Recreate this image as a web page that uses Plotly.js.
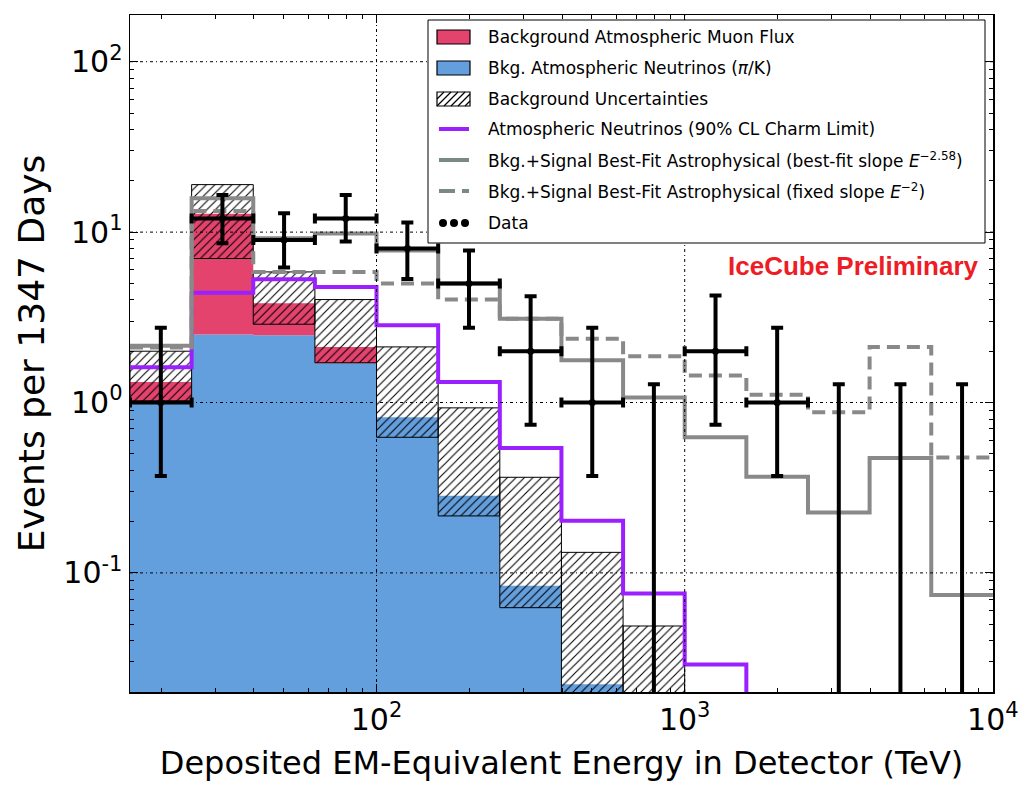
<!DOCTYPE html>
<html><head><meta charset="utf-8">
<script src="https://cdn.plot.ly/plotly-3.0.1.min.js"></script>
<style>html,body{margin:0;padding:0;background:#fff}#chart{width:1018px;height:786px}</style>
</head><body><div id="chart"></div>
<script>
// ---------- data ----------
const binEdges = [15.85, 25.12, 39.81, 63.10, 100, 158.5, 251.2, 398.1, 631.0, 1000, 1585, 2512, 3981, 6310, 10000];
const atmNuBkg   = [1.02, 2.51, 2.48, 1.70, 0.82, 0.284, 0.084, 0.0222];      // bins 1-8
const muonBkg    = [0.30, 10.3, 1.34, 0.42, 0, 0, 0, 0];                     // stacked on atm. nu
const uncLow     = [1.02, 7.0, 2.88, 1.71, 0.625, 0.216, 0.0625, 0.015, 0.008];
const uncHigh    = [2.0, 19.0, 5.84, 4.02, 2.12, 0.93, 0.364, 0.132, 0.0488];
const charmLimit = [1.61, 4.4, 5.29, 4.77, 2.84, 1.32, 0.541, 0.202, 0.0756, 0.029, 0.012];
const fitBestSlope  = [2.15, 15.8, 9.2, 9.8, 7.8, 5.0, 3.1, 1.77, 1.07, 0.625, 0.367, 0.226, 0.473, 0.0742];
const fitFixedSlope = [2.1, 13.3, 5.84, 5.84, 5.0, 4.02, 3.1, 2.37, 1.87, 1.44, 1.11, 0.877, 2.12, 0.476];
const dataCounts = [1, 12, 9, 12, 8, 5, 2, 1, 0, 2, 1, 0, 0, 0];
const dataUpper  = [2.75, 16.5, 12.9, 16.5, 11.4, 7.8, 4.2, 2.75, 1.28, 4.25, 2.75, 1.28, 1.28, 1.28];
const dataLower  = [0.37, 8.6, 6.2, 8.8, 5.3, 2.75, 0.74, 0.37, 0, 0.74, 0.37, 0, 0, 0];
const yTickVals = [0.1, 1, 10, 100];
const yTickText = ['10<sup>-1</sup>', '10<sup>0</sup>', '10<sup>1</sup>', '10<sup>2</sup>'];
const xTickVals = [100, 1000, 10000];
const xTickText = ['10<sup>2</sup>', '10<sup>3</sup>', '10<sup>4</sup>'];
const legendLabels = [
  'Background Atmospheric Muon Flux',
  'Bkg. Atmospheric Neutrinos (<i>π</i>/K)',
  'Background Uncertainties',
  'Atmospheric Neutrinos (90% CL Charm Limit)',
  'Bkg.+Signal Best-Fit Astrophysical (best-fit slope <i>E</i><sup>−2.58</sup>)',
  'Bkg.+Signal Best-Fit Astrophysical (fixed slope <i>E</i><sup>−2</sup>)',
  'Data'
];

// ---------- style ----------
const RED = '#e3436d', BLUE = '#639edd', PURPLE = '#9b20ff', GRAY = '#898989', LEGGRAY = '#7a8888';
const YMIN = 0.02, YMAX = 188, FLOOR = 1e-4;

// ---------- helpers ----------
function stepXY(vals) {
  const xs = [], ys = [];
  vals.forEach((v, i) => { xs.push(binEdges[i], binEdges[i + 1]); ys.push(v, v); });
  return {xs, ys};
}
const stackTop = atmNuBkg.map((v, i) => v + muonBkg[i]);

// blue (atm. neutrinos) polygon
const bs = stepXY(atmNuBkg);
const blueX = [binEdges[0], ...bs.xs, binEdges[atmNuBkg.length]];
const blueY = [FLOOR, ...bs.ys, FLOOR];

// red (muon) polygon between atm-nu and stack top
const ts = stepXY(stackTop);
const redX = [...ts.xs, ...bs.xs.slice().reverse()];
const redY = [...ts.ys, ...bs.ys.slice().reverse()];

// hatched uncertainty rectangles
const hatchX = [], hatchY = [];
uncLow.forEach((lo, i) => {
  const a = binEdges[i], b = binEdges[i + 1], hi = uncHigh[i];
  hatchX.push(a, a, b, b, a, null);
  hatchY.push(lo, hi, hi, lo, lo, null);
});

function stepLine(vals) {
  const xs = binEdges.slice(0, vals.length + 1);
  const ys = [...vals, vals[vals.length - 1]];
  return {xs, ys};
}
const charmL = stepLine(charmLimit), bestL = stepLine(fitBestSlope), fixL = stepLine(fitFixedSlope);

const centers = dataCounts.map((_, i) => Math.sqrt(binEdges[i] * binEdges[i + 1]));
const nz = dataCounts.map((c, i) => i).filter(i => dataCounts[i] > 0);
const zb = dataCounts.map((c, i) => i).filter(i => dataCounts[i] === 0);

const traces = [
  {type:'scatter', mode:'lines', x: blueX, y: blueY, fill:'toself', fillcolor: BLUE, line:{width:0}, hoverinfo:'skip'},
  {type:'scatter', mode:'lines', x: redX, y: redY, fill:'toself', fillcolor: RED, line:{width:0}, hoverinfo:'skip'},
  {type:'scatter', mode:'lines', x: hatchX, y: hatchY, fill:'toself', fillcolor:'rgba(0,0,0,0)',
   fillpattern:{shape:'/', fgcolor:'black', bgcolor:'rgba(0,0,0,0)', size:6, solidity:0.18},
   line:{color:'black', width:1}, connectgaps:false, hoverinfo:'skip'},
  {type:'scatter', mode:'lines', x: charmL.xs, y: charmL.ys, line:{shape:'hv', color: PURPLE, width:4}},
  {type:'scatter', mode:'lines', x: bestL.xs, y: bestL.ys, line:{shape:'hv', color: GRAY, width:4}},
  {type:'scatter', mode:'lines', x: fixL.xs, y: fixL.ys, line:{shape:'hv', color: GRAY, width:4, dash:'13px,7px'}},
  {type:'scatter', mode:'markers', x: nz.map(i => centers[i]), y: nz.map(i => dataCounts[i]),
   marker:{color:'black', size:7},
   error_y:{type:'data', symmetric:false, array: nz.map(i => dataUpper[i] - dataCounts[i]),
            arrayminus: nz.map(i => dataCounts[i] - dataLower[i]), color:'black', thickness:4, width:6},
   error_x:{type:'data', symmetric:false, array: nz.map(i => binEdges[i + 1] - centers[i]),
            arrayminus: nz.map(i => centers[i] - binEdges[i]), color:'black', thickness:4, width:5}},
  {type:'scatter', mode:'markers', x: zb.map(i => centers[i]), y: zb.map(i => dataUpper[i]),
   marker:{color:'black', size:1, opacity:0},
   error_y:{type:'data', symmetric:false, array: zb.map(() => 0), arrayminus: zb.map(i => dataUpper[i]),
            color:'black', thickness:4, width:6}}
];

// ---------- decoration shapes (paper coords) ----------
const PL = 130, PR = 993, PT = 15, PB = 692;
const XLOG0 = Math.log10(binEdges[0]), XLOG1 = 4.0004;
const px = x => (x - PL) / (PR - PL);
const py = y => (PB - y) / (PB - PT);
const lx = v => (Math.log10(v) - XLOG0) / (XLOG1 - XLOG0);
const ly = v => (Math.log10(v) - Math.log10(YMIN)) / (Math.log10(YMAX) - Math.log10(YMIN));

const shapes = [];
const gridDash = '3px,3px,1px,3px';
[100, 1000].forEach(v => shapes.push({type:'line', xref:'paper', yref:'paper', x0: lx(v), x1: lx(v), y0:0, y1:1,
  line:{color:'black', width:1, dash: gridDash}, layer:'above'}));
yTickVals.forEach(v => shapes.push({type:'line', xref:'paper', yref:'paper', x0:0, x1:1, y0: ly(v), y1: ly(v),
  line:{color:'black', width:1, dash: gridDash}, layer:'above'}));

// legend box
shapes.push({type:'rect', xref:'paper', yref:'paper', x0: px(428), x1: px(985), y0: py(243), y1: py(20),
  fillcolor:'white', line:{color:'black', width:1}, layer:'above'});
const rowY = [37, 68, 99, 129, 160, 191, 223];
const symX0 = 437, symX1 = 470;
function patch(yc, fill) {
  shapes.push({type:'rect', xref:'paper', yref:'paper', x0: px(symX0), x1: px(symX1), y0: py(yc + 7), y1: py(yc - 7),
    fillcolor: fill, line:{color:'black', width:1.2}, layer:'above'});
}
patch(rowY[0], RED);
patch(rowY[1], BLUE);
patch(rowY[2], 'white');
(function hatch(yc) {
  const yT = yc - 7, yB = yc + 7, h = yB - yT;
  for (let k = symX0 - h; k < symX1; k += 7) {
    let sx = k, sy = yB, ex = k + h, ey = yT;
    if (sx < symX0) { sy -= (symX0 - sx); sx = symX0; }
    if (ex > symX1) { ey += (ex - symX1); ex = symX1; }
    if (sx < ex) shapes.push({type:'line', xref:'paper', yref:'paper', x0: px(sx), y0: py(sy), x1: px(ex), y1: py(ey),
      line:{color:'black', width:1.3}, layer:'above'});
  }
})(rowY[2]);
shapes.push({type:'line', xref:'paper', yref:'paper', x0: px(439), x1: px(469), y0: py(rowY[3]), y1: py(rowY[3]),
  line:{color: PURPLE, width:4}, layer:'above'});
shapes.push({type:'line', xref:'paper', yref:'paper', x0: px(439), x1: px(469), y0: py(rowY[4]), y1: py(rowY[4]),
  line:{color: LEGGRAY, width:4}, layer:'above'});
shapes.push({type:'line', xref:'paper', yref:'paper', x0: px(439), x1: px(469), y0: py(rowY[5]), y1: py(rowY[5]),
  line:{color: LEGGRAY, width:4, dash:'16px,7px'}, layer:'above'});
[443, 454, 465].forEach(cx => shapes.push({type:'circle', xref:'paper', yref:'paper',
  x0: px(cx - 4), x1: px(cx + 4), y0: py(rowY[6] + 4), y1: py(rowY[6] - 4),
  fillcolor:'black', line:{color:'black', width:0}, layer:'above'}));

const annotations = legendLabels.map((t, i) => ({xref:'paper', yref:'paper', x: px(486), y: py(rowY[i]),
  xanchor:'left', yanchor:'middle', showarrow:false, text: t, font:{family:'DejaVu Sans', size:17, color:'black'}}));
annotations.push({xref:'paper', yref:'paper', x: px(981), y: py(266), xanchor:'right', yanchor:'middle', showarrow:false,
  text:'<b>IceCube Preliminary</b>', font:{family:'Liberation Sans', size:26, color:'#ee1c25'}});

// minor ticks
const minorX = [], minorY = [];
[10, 100, 1000].forEach(d => { for (let m = 2; m <= 9; m++) minorX.push(m * d); });
[0.01, 0.1, 1, 10, 100].forEach(d => { for (let m = 2; m <= 9; m++) minorY.push(m * d); });

const axisCommon = {showline:true, linecolor:'black', linewidth:1.5, mirror:'ticks', ticks:'inside',
  ticklen:8, tickwidth:1, tickcolor:'black', showgrid:false, zeroline:false, automargin:false};

const layout = {
  width:1018, height:786, margin:{l:PL, r:1018 - PR, t:PT, b:786 - PB},
  paper_bgcolor:'white', plot_bgcolor:'white', showlegend:false,
  font:{family:'DejaVu Sans', color:'black'},
  xaxis: Object.assign({}, axisCommon, {type:'log', range:[XLOG0, XLOG1], ticklabeloverflow:'allow',
    tickmode:'array', tickvals: xTickVals, ticktext: xTickText, tickfont:{size:30},
    minor:{tickmode:'array', tickvals: minorX, ticks:'inside', ticklen:4, tickcolor:'black', showgrid:false},
    title:{text:'Deposited EM-Equivalent Energy in Detector (TeV)', font:{size:32}, standoff:16}}),
  yaxis: Object.assign({}, axisCommon, {type:'log', range:[Math.log10(YMIN), Math.log10(YMAX)],
    tickmode:'array', tickvals: yTickVals, ticktext: yTickText, tickfont:{size:30},
    minor:{tickmode:'array', tickvals: minorY, ticks:'inside', ticklen:4, tickcolor:'black', showgrid:false},
    title:{text:'Events per 1347 Days', font:{size:36}, standoff:8}}),
  shapes, annotations
};

Plotly.newPlot('chart', traces, layout, {displayModeBar:false, staticPlot:true});
</script></body></html>
